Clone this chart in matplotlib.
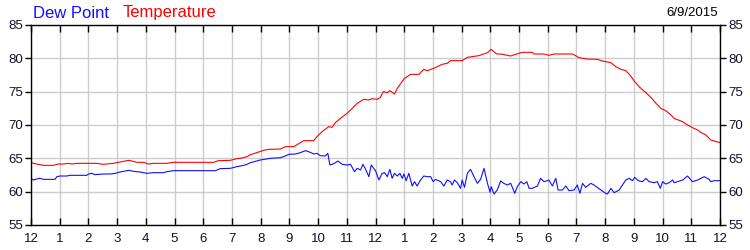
import matplotlib
matplotlib.use("Agg")
import matplotlib.pyplot as plt

# Data (hours since midnight, degrees F)
temp_hours = [0, 0.08, 0.43, 0.78, 0.95, 1.13, 1.3, 1.42, 1.59, 2.29, 2.52, 2.87, 3.1, 3.28, 3.4, 3.51,
              3.69, 3.92, 4.09, 4.27, 4.73, 4.96, 6.36, 6.53, 6.94, 7.17, 7.35, 7.52, 7.64, 7.9, 8.1,
              8.28, 8.69, 8.86, 9.15, 9.5, 9.85, 9.96, 10.14, 10.37, 10.49, 10.6, 10.78, 11.01, 11.19,
              11.36, 11.59, 11.77, 11.88, 12.06, 12.17, 12.27, 12.41, 12.5, 12.66, 12.76, 13.01, 13.22,
              13.51, 13.68, 13.8, 14.03, 14.32, 14.5, 14.61, 15.02, 15.2, 15.6, 15.9, 16.03, 16.22,
              16.36, 16.71, 16.88, 17.12, 17.46, 17.52, 17.87, 18.04, 18.22, 18.86, 19.09, 19.38,
              19.73, 19.9, 20.2, 20.37, 20.55, 20.72, 20.89, 21.01, 21.18, 21.42, 21.59, 21.77, 21.94,
              22.11, 22.29, 22.4, 22.7, 22.81, 23.04, 23.22, 23.33, 23.51, 23.68, 24.0]
temp_values = [64.4, 64.25, 63.95, 63.95, 64.15, 64.15, 64.25, 64.15, 64.25, 64.25, 64.1, 64.25, 64.45,
               64.6, 64.7, 64.6, 64.4, 64.4, 64.15, 64.25, 64.25, 64.4, 64.4, 64.65, 64.7, 64.95, 65.05,
               65.25, 65.55, 65.9, 66.2, 66.35, 66.4, 66.75, 66.75, 67.65, 67.65, 68.25, 69.0, 69.75,
               69.65, 70.35, 71.0, 71.75, 72.5, 73.25, 73.85, 73.75, 73.95, 73.85, 74.15, 75.0, 74.85,
               75.15, 74.65, 75.5, 77.0, 77.6, 77.6, 78.35, 78.15, 78.5, 79.1, 79.25, 79.65, 79.65, 80.15,
               80.4, 80.85, 81.35, 80.65, 80.65, 80.35, 80.6, 80.9, 80.9, 80.65, 80.65, 80.45, 80.65,
               80.65, 80.1, 79.9, 79.85, 79.6, 79.35, 78.75, 78.35, 78.15, 77.35, 76.6, 75.75, 74.85,
               74.15, 73.25, 72.5, 72.15, 71.5, 71.0, 70.5, 70.15, 69.6, 69.25, 68.9, 68.5, 67.75, 67.35]

dew_hours = [0, 0.08, 0.2, 0.31, 0.43, 0.84, 0.9, 1.01, 1.25, 1.36, 1.94, 2.0, 2.12, 2.23, 2.52, 2.76,
             2.93, 3.1, 3.28, 3.4, 3.57, 3.8, 4.03, 4.27, 4.62, 4.73, 4.96, 6.42, 6.59, 6.94, 7.17, 7.41,
             7.52, 7.64, 7.99, 8.34, 8.69, 8.86, 8.98, 9.21, 9.38, 9.56, 9.73, 9.85, 9.96, 10.08, 10.25,
             10.34, 10.41, 10.55, 10.69, 10.84, 11.01, 11.13, 11.27, 11.36, 11.48, 11.56, 11.65, 11.77,
             11.85, 12.0, 12.12, 12.23, 12.32, 12.41, 12.5, 12.58, 12.66, 12.76, 12.85, 12.93, 12.99,
             13.07, 13.16, 13.28, 13.36, 13.45, 13.57, 13.68, 13.8, 13.92, 14.01, 14.09, 14.27, 14.38,
             14.5, 14.61, 14.67, 14.75, 14.85, 14.96, 15.02, 15.1, 15.2, 15.31, 15.43, 15.55, 15.66,
             15.78, 15.9, 15.99, 16.03, 16.13, 16.24, 16.36, 16.47, 16.59, 16.71, 16.85, 16.94, 17.06,
             17.17, 17.27, 17.35, 17.46, 17.64, 17.75, 17.87, 17.99, 18.04, 18.16, 18.28, 18.36, 18.51,
             18.63, 18.74, 18.92, 19.03, 19.12, 19.21, 19.32, 19.5, 19.61, 19.85, 20.02, 20.08, 20.2,
             20.31, 20.49, 20.6, 20.72, 20.83, 20.95, 21.03, 21.15, 21.3, 21.42, 21.53, 21.71, 21.82,
             21.92, 22.0, 22.11, 22.23, 22.35, 22.4, 22.52, 22.7, 22.87, 23.04, 23.22, 23.45, 23.62,
             23.68, 23.8, 24.0]
dew_values = [62.0, 61.75, 61.9, 62.0, 61.85, 61.85, 62.25, 62.35, 62.35, 62.45, 62.45, 62.65, 62.75,
              62.55, 62.65, 62.65, 62.75, 62.95, 63.1, 63.2, 63.05, 62.95, 62.75, 62.85, 62.85, 63.0,
              63.15, 63.15, 63.45, 63.5, 63.75, 63.95, 64.1, 64.35, 64.75, 65.0, 65.1, 65.35, 65.6,
              65.65, 65.85, 66.15, 65.9, 65.65, 65.75, 65.4, 65.35, 65.75, 64.0, 64.2, 64.6, 64.1,
              64.0, 64.1, 63.0, 63.5, 63.25, 64.1, 63.4, 62.25, 64.0, 63.15, 61.75, 62.75, 62.85,
              62.25, 63.35, 62.0, 62.75, 62.35, 62.75, 62.0, 62.65, 61.65, 62.75, 60.85, 61.5, 60.85,
              61.75, 62.35, 62.25, 62.25, 61.5, 61.85, 61.5, 60.85, 61.75, 61.5, 61.0, 61.75, 61.35,
              60.5, 61.75, 60.65, 62.75, 63.35, 62.25, 61.25, 61.85, 63.5, 61.25, 59.9, 60.75, 59.65,
              60.25, 61.6, 61.25, 61.0, 61.25, 59.75, 60.75, 61.5, 61.15, 61.5, 60.5, 60.5, 60.85,
              62.0, 61.5, 61.65, 61.75, 60.85, 62.0, 60.25, 60.25, 60.85, 60.15, 60.25, 61.0, 59.75,
              61.25, 60.65, 61.25, 61.0, 60.25, 59.75, 59.65, 60.5, 59.85, 60.25, 61.0, 61.75, 62.0,
              61.65, 62.15, 61.65, 61.5, 62.0, 61.5, 61.35, 61.5, 60.5, 61.5, 61.15, 61.35, 61.75,
              61.35, 61.5, 61.75, 62.35, 61.5, 61.75, 62.25, 61.85, 61.5, 61.65, 61.65]

hour_labels = ["12", "1", "2", "3", "4", "5", "6", "7", "8", "9", "10", "11",
               "12", "1", "2", "3", "4", "5", "6", "7", "8", "9", "10", "11", "12"]
y_ticks = [55, 60, 65, 70, 75, 80, 85]
date_label = "6/9/2015"

plt.rcParams['font.family'] = ['Liberation Sans', 'DejaVu Sans']

fig = plt.figure(figsize=(7.5, 2.5), dpi=100)
ax = fig.add_axes([31/750, 25/250, 689/750, 200/250])

ax.plot(temp_hours, temp_values, color='#ff0000', lw=0.8)
ax.plot(dew_hours, dew_values, color='#1010ff', lw=0.8)

ax.set_xlim(0, 24)
ax.set_ylim(55, 85)
ax.set_xticks(range(25))
ax.set_xticklabels(hour_labels)
ax.set_yticks(y_ticks)
ax.grid(True, color='#cccccc', lw=1)
ax.set_axisbelow(True)

tick_color = '#101030'
ax.tick_params(axis='x', direction='in', length=5, width=1, top=True, bottom=True,
               labelsize=9.5, labelcolor=tick_color, pad=6)
ax.tick_params(axis='y', direction='out', length=4, width=1, left=True, right=True,
               labelleft=True, labelright=True, labelsize=9.5, labelcolor=tick_color, pad=2)
for s in ax.spines.values():
    s.set_color('black')
    s.set_linewidth(1)

fig.text(33/750, 1 - 13/250, "Dew Point", color='#1010ff', fontsize=12, va='center', ha='left')
fig.text(123/750, 1 - 13/250, "Temperature", color='#ff0000', fontsize=12, va='center', ha='left')
fig.text(718/750, 1 - 13/250, date_label, color='black', fontsize=9.5, va='center', ha='right')

fig.savefig("out.png", dpi=100)
